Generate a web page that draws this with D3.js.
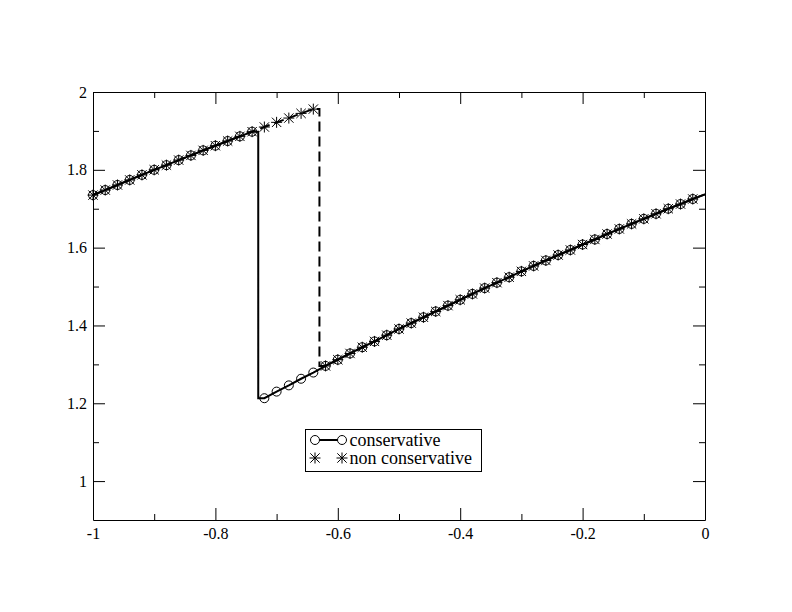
<!doctype html>
<html>
<head>
<meta charset="utf-8">
<style>
  body { margin: 0; background: #fff; }
  svg text { font-family: 'Liberation Serif', 'Times New Roman', 'DejaVu Serif', serif; fill: #000; }
</style>
<script src="https://cdn.jsdelivr.net/npm/d3@7"></script>
</head>
<body>
<svg id="chart" width="792" height="612"></svg>
<script>
// grid points (periodic domain, last point x = 0 only closes the line)
var xValues = [-1, -0.98, -0.96, -0.94, -0.92, -0.9, -0.88, -0.86, -0.84, -0.82,
               -0.8, -0.78, -0.76, -0.74, -0.72, -0.7, -0.68, -0.66, -0.64, -0.62,
               -0.6, -0.58, -0.56, -0.54, -0.52, -0.5, -0.48, -0.46, -0.44, -0.42,
               -0.4, -0.38, -0.36, -0.34, -0.32, -0.3, -0.28, -0.26, -0.24, -0.22,
               -0.2, -0.18, -0.16, -0.14, -0.12, -0.1, -0.08, -0.06, -0.04, -0.02];

var conservative = [1.735, 1.748, 1.761, 1.774, 1.787, 1.800, 1.812, 1.825, 1.837, 1.850,
                    1.862, 1.874, 1.886, 1.898, 1.213, 1.230, 1.246, 1.263, 1.279, 1.296,
                    1.312, 1.328, 1.344, 1.359, 1.375, 1.391, 1.406, 1.421, 1.436, 1.451,
                    1.466, 1.481, 1.496, 1.510, 1.524, 1.539, 1.553, 1.567, 1.581, 1.594,
                    1.608, 1.621, 1.635, 1.648, 1.661, 1.674, 1.687, 1.700, 1.712, 1.725];

var nonConservative = [1.735, 1.748, 1.761, 1.774, 1.787, 1.800, 1.812, 1.825, 1.837, 1.850,
                       1.862, 1.874, 1.886, 1.898, 1.910, 1.922, 1.933, 1.945, 1.956, 1.296,
                       1.312, 1.328, 1.344, 1.359, 1.375, 1.391, 1.406, 1.421, 1.436, 1.451,
                       1.466, 1.481, 1.496, 1.510, 1.524, 1.539, 1.553, 1.567, 1.581, 1.594,
                       1.608, 1.621, 1.635, 1.648, 1.661, 1.674, 1.687, 1.700, 1.712, 1.725];

var boundaryX = 0;
var boundaryValue = 1.737;

var seriesNames = ["conservative", "non conservative"];

var xTicks = [-1, -0.8, -0.6, -0.4, -0.2, 0];
var xTickLabels = ["-1", "-0.8", "-0.6", "-0.4", "-0.2", "0"];
var xMinorTicks = [-0.9, -0.7, -0.5, -0.3, -0.1];
var yTicks = [1, 1.2, 1.4, 1.6, 1.8, 2];
var yTickLabels = ["1", "1.2", "1.4", "1.6", "1.8", "2"];
var yMinorTicks = [1.1, 1.3, 1.5, 1.7, 1.9];

var serif = "'Liberation Serif', 'Times New Roman', serif";

var svg = d3.select("#chart"),
    plotLeft = 93, plotRight = 705, plotTop = 92, plotBottom = 520;

var x = d3.scaleLinear().domain([-1, 0]).range([plotLeft, plotRight]);
var y = d3.scaleLinear().domain([0.9, 2]).range([plotBottom, plotTop]);

svg.append("rect").attr("width", 792).attr("height", 612).attr("fill", "#fff");

// axes: major + minor ticks inward on all four sides
function drawAxis(axisFn, scale, ticks, minor, labels, transform, pad) {
    var g = svg.append("g").attr("transform", transform);
    g.call(axisFn(scale).tickValues(ticks).tickSizeInner(-12).tickSizeOuter(0).tickPadding(pad)
        .tickFormat(labels ? function(d, i) { return labels[i]; } : ""));
    var m = svg.append("g").attr("transform", transform);
    m.call(axisFn(scale).tickValues(minor).tickSizeInner(-6).tickSizeOuter(0).tickFormat(""));
    m.select(".domain").remove();
    g.attr("font-family", serif);
    return g;
}
drawAxis(d3.axisBottom, x, xTicks, xMinorTicks, xTickLabels, "translate(0," + plotBottom + ")", 8);
drawAxis(d3.axisTop, x, xTicks, xMinorTicks, null, "translate(0," + plotTop + ")", 0);
drawAxis(d3.axisLeft, y, yTicks, yMinorTicks, yTickLabels, "translate(" + plotLeft + ",0)", 6);
drawAxis(d3.axisRight, y, yTicks, yMinorTicks, null, "translate(" + plotRight + ",0)", 0);

svg.selectAll(".domain").attr("stroke", "#000").attr("stroke-width", 1);
svg.selectAll(".tick line").attr("stroke", "#000").attr("stroke-width", 1);
svg.selectAll(".tick text").attr("font-size", 16).attr("font-family", serif).attr("fill", "#000");

// line points, with the shock drawn as a vertical jump half way between cells
function linePoints(ys) {
    var pts = [];
    ys.forEach(function(v, i) {
        if (i > 0 && Math.abs(v - ys[i - 1]) > 0.2) {
            var xm = (xValues[i] + xValues[i - 1]) / 2;
            pts.push([xm, ys[i - 1]], [xm, v]);
        }
        pts.push([xValues[i], v]);
    });
    pts.push([boundaryX, boundaryValue]);
    return pts;
}

var line = d3.line().x(function(d) { return x(d[0]); }).y(function(d) { return y(d[1]); });

svg.append("path")
    .attr("d", line(linePoints(conservative)))
    .attr("fill", "none").attr("stroke", "#000").attr("stroke-width", 2);

svg.append("path")
    .attr("d", line(linePoints(nonConservative)))
    .attr("fill", "none").attr("stroke", "#000").attr("stroke-width", 2)
    .attr("stroke-dasharray", "10,5");

var r = 4.5;
function starPath(h) {
    var d = h * 0.85;
    return "M" + (-h) + ",0L" + h + ",0M0," + (-h) + "L0," + h +
           "M" + (-d) + "," + (-d) + "L" + d + "," + d + "M" + (-d) + "," + d + "L" + d + "," + (-d);
}

svg.append("g").selectAll("circle")
    .data(conservative)
    .enter().append("circle")
    .attr("cx", function(d, i) { return x(xValues[i]); })
    .attr("cy", function(d) { return y(d); })
    .attr("r", r)
    .attr("fill", "none").attr("stroke", "#000").attr("stroke-width", 1);

svg.append("g").selectAll("path")
    .data(nonConservative)
    .enter().append("path")
    .attr("transform", function(d, i) { return "translate(" + x(xValues[i]) + "," + y(d) + ")"; })
    .attr("d", starPath(5.5))
    .attr("fill", "none").attr("stroke", "#000").attr("stroke-width", 1);

// legend
var lg = svg.append("g").attr("transform", "translate(305.5,429.5)");
lg.append("rect").attr("width", 176).attr("height", 42)
    .attr("fill", "#fff").attr("stroke", "#000").attr("stroke-width", 1);

var rows = lg.selectAll(".row").data(seriesNames).enter().append("g")
    .attr("class", "row")
    .attr("transform", function(d, i) { return "translate(0," + (10.5 + i * 18) + ")"; });

rows.filter(function(d, i) { return i === 0; }).append("line")
    .attr("x1", 9.5).attr("x2", 36.5).attr("y1", 0).attr("y2", 0)
    .attr("stroke", "#000").attr("stroke-width", 2);

rows.each(function(d, i) {
    var row = d3.select(this);
    [9.5, 36.5].forEach(function(cx) {
        if (i === 0) {
            row.append("circle").attr("cx", cx).attr("cy", 0).attr("r", r)
                .attr("fill", "#fff").attr("stroke", "#000").attr("stroke-width", 1);
        } else {
            row.append("path").attr("transform", "translate(" + cx + ",0)").attr("d", starPath(5.5))
                .attr("fill", "none").attr("stroke", "#000").attr("stroke-width", 1);
        }
    });
});

rows.append("text")
    .attr("x", 44).attr("y", 5.5)
    .attr("font-size", 18)
    .attr("font-family", serif)
    .text(function(d) { return d; });
</script>
</body>
</html>
